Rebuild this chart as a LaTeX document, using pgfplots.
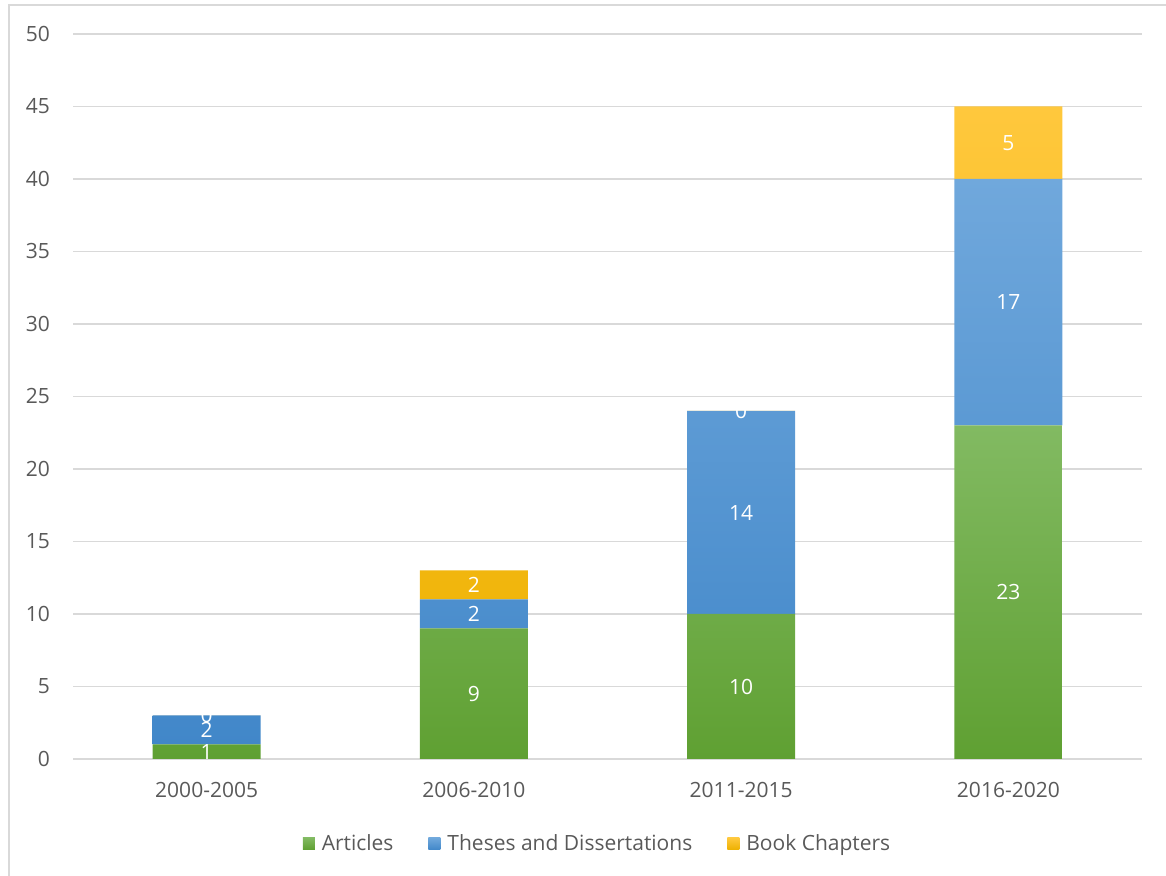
\documentclass[border=0pt]{standalone}
\usepackage{fontspec}
\setmainfont{Open Sans}
\usepackage{pgfplots}
\pgfplotsset{compat=1.18}
\usepackage{pgfplotstable}
\definecolor{gridc}{HTML}{D9D9D9}
\definecolor{txt}{HTML}{595959}
\definecolor{gtop}{HTML}{82BA62}
\definecolor{gbot}{HTML}{5FA032}
\definecolor{btop}{HTML}{70A8DC}
\definecolor{bbot}{HTML}{4187C9}
\definecolor{ytop}{HTML}{FFC83D}
\definecolor{ybot}{HTML}{EDB100}
% c = Book Chapters (0 drawn as 0.001 so that its label "0" is shown)
\pgfplotstableread{
x a b c cm
0 1 2 0.001 0
1 9 2 2 2
2 10 14 0.001 0
3 23 17 5 5
}\data
\begin{document}
\begin{tikzpicture}[x=1pt,y=1pt]
\path[use as bounding box] (0,0) rectangle (583,438);
\draw[gridc, line width=1pt] (4.25,0) -- (4.25,435.25) -- (583,435.25);
\begin{axis}[
  at={(36.5pt,58.5pt)}, anchor=south west,
  scale only axis, width=534.5pt, height=362.5pt,
  ybar stacked, bar width=54pt,
  xmin=-0.5, xmax=3.5, ymin=0, ymax=50,
  xtick={0,1,2,3}, xticklabels={2000-2005,2006-2010,2011-2015,2016-2020},
  ytick={0,5,...,50},
  axis line style={draw=none},
  major tick length=0pt,
  ymajorgrids, grid style={gridc, line width=0.75pt},
  tick label style={font=\fontsize{10.5}{12}\selectfont, text=txt},
  /pgf/number format/assume math mode=true,
  yticklabel style={xshift=-8pt},
  xticklabel style={yshift=-8pt},
  point meta=explicit,
  nodes near coords={\pgfmathprintnumber{\pgfplotspointmeta}},
  every node near coord/.append style={text=white, anchor=center, font=\fontsize{10.5}{12}\selectfont},
  legend columns=-1,
  legend style={at={(0.4916,-0.117)}, anchor=center, draw=none, fill=none,
    font=\fontsize{10.5}{12}\selectfont, text=txt,
    /tikz/every even column/.append style={column sep=15.5pt},
    inner sep=0pt},
  legend image code/.code={\path[#1, draw=none] (0pt,-3pt) rectangle (6pt,3pt); \path (7.5pt,0pt);},
]
\addplot[draw=none, top color=gtop, bottom color=gbot] table[x=x, y=a, meta=a] {\data};
\addplot[draw=none, top color=btop, bottom color=bbot] table[x=x, y=b, meta=b] {\data};
\addplot[draw=none, top color=ytop, bottom color=ybot] table[x=x, y=c, meta=cm] {\data};
\legend{Articles, Theses and Dissertations, Book Chapters}
\end{axis}
\end{tikzpicture}
\end{document}
